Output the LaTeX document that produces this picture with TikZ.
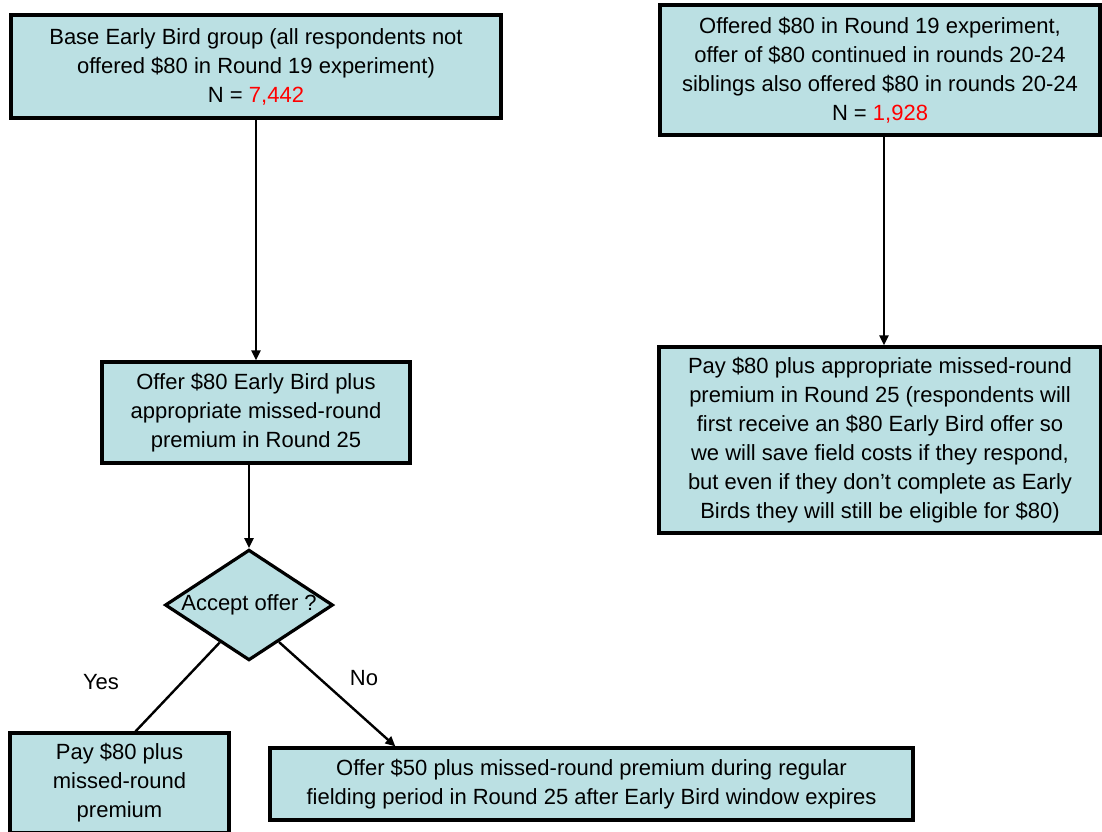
\documentclass[tikz,border=0pt]{standalone}
\usepackage{fontspec}
\setmainfont{Liberation Sans}
\usetikzlibrary{shapes.geometric,arrows.meta}
\definecolor{boxfill}{RGB}{187,224,227}
\tikzset{
	box/.style={draw, line width=1.6pt, fill=boxfill, align=center, inner sep=2pt, font=\fontsize{11}{14.5}\selectfont},
	link/.style={line width=1.2pt},
	arr/.style={link, -{Triangle[width=4.5pt,length=5pt]}},
	lbl/.style={font=\fontsize{11}{14}\selectfont, inner sep=1pt}
}
\begin{document}
\begin{tikzpicture}[x=0.5pt, y=-0.5pt]
		\useasboundingbox (0,0) rectangle (1102,831);
		\clip (0,0) rectangle (1102,831);
		\node[box, minimum width=245pt, minimum height=51.5pt] (base) at (256, 66.5) {Base Early Bird group (all respondents not\\ offered \$80 in Round 19 experiment)\\ N = {\color{red}7,442}};
		\node[box, minimum width=220pt, minimum height=65pt] (sibs) at (880, 70) {Offered \$80 in Round 19 experiment,\\ offer of \$80 continued in rounds 20-24\\ siblings also offered \$80 in rounds 20-24\\ N = {\color{red}1,928}};
		\node[box, minimum width=154pt, minimum height=50.5pt] (offer) at (256, 412.5) {Offer \$80 Early Bird plus\\ appropriate missed-round\\ premium in Round 25};
		\node[box, minimum width=221pt, minimum height=93pt] (pay) at (880, 440) {Pay \$80 plus appropriate missed-round\\ premium in Round 25 (respondents will\\ first receive an \$80 Early Bird offer so\\ we will save field costs if they respond,\\ but even if they don't complete as Early\\ Birds they will still be eligible for \$80)};
		\node[box, shape=diamond, inner sep=0pt, aspect=1.5, minimum width=84pt, minimum height=55pt] (dec) at (249, 605) {Accept offer ?};
		\node[box, minimum width=109.5pt, minimum height=50pt] (payplus) at (119.5, 783) {Pay \$80 plus\\ missed-round\\ premium};
		\node[box, minimum width=321.5pt, minimum height=36pt] (fifty) at (591.5, 784) {Offer \$50 plus missed-round premium during regular\\ fielding period in Round 25 after Early Bird window expires};
		\node[lbl] (yes) at (101, 682) {Yes};
		\node[lbl] (no) at (364, 678) {No};

		\draw[arr] (base) -- (offer);
		\draw[arr] ([xshift=2pt]sibs.south) -- ([xshift=2pt]pay.north);
		\draw[arr] (offer.south -| dec.north) -- (dec.north);
		\draw[link] (dec.232) -- ([xshift=8pt]payplus.north);
		\draw[arr] (dec.309) -- ([xshift=63.5pt]fifty.north west);
\end{tikzpicture}
\end{document}
